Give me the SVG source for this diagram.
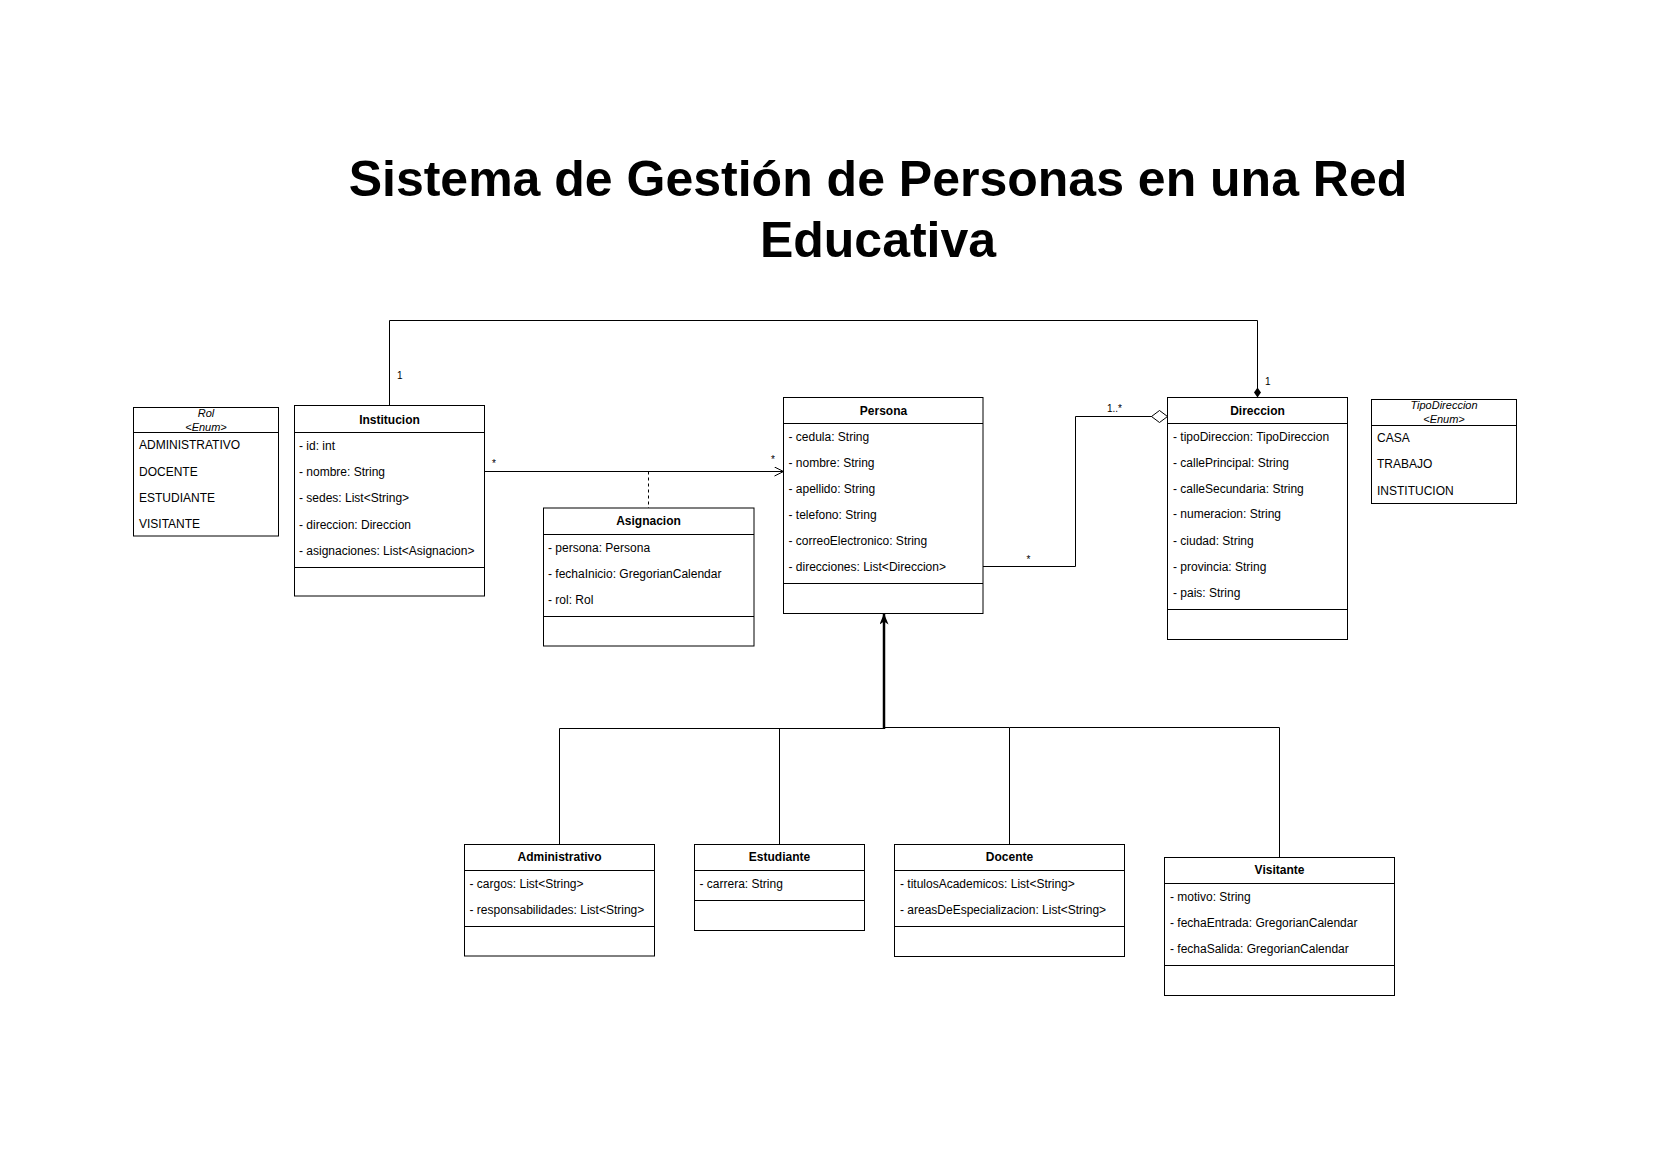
<svg xmlns="http://www.w3.org/2000/svg" width="1654" height="1169" viewBox="0 0 1654 1169">
<style>
text{font-family:"Liberation Sans",Arial,sans-serif;font-size:12px;fill:#000}
.box{fill:#fff;stroke:#000;stroke-width:1}
.sep{stroke:#000;stroke-width:1}
.hd{font-weight:bold;text-anchor:middle}
.en{font-style:italic;font-size:11px;text-anchor:middle}
.lbl{font-size:10px}
.title{font-size:50px;font-weight:bold;text-anchor:middle}
.edge{fill:none;stroke:#000;stroke-width:1}
.trunk{fill:none;stroke:#000;stroke-width:2.5}
</style>
<defs>
<marker id="open" viewBox="0 0 10 10" refX="9.5" refY="5" markerWidth="10" markerHeight="10" markerUnits="userSpaceOnUse" orient="auto"><path d="M0.5 0.5 L9.5 5 L0.5 9.5" fill="none" stroke="#000" stroke-width="1"/></marker>
<marker id="block" viewBox="0 0 11 9" refX="11" refY="4.5" markerWidth="11" markerHeight="9" markerUnits="userSpaceOnUse" orient="auto"><path d="M0 0 L11 4.5 L0 9 L3 4.5 z" fill="#000"/></marker>
<marker id="fdiamond" viewBox="0 0 10 7" refX="10" refY="3.5" markerWidth="10" markerHeight="7" markerUnits="userSpaceOnUse" orient="auto"><path d="M0 3.5 L5 0 L10 3.5 L5 7 z" fill="#000"/></marker>
<marker id="hdiamond" viewBox="0 0 17 13" refX="16.5" refY="6.5" markerWidth="17" markerHeight="13" markerUnits="userSpaceOnUse" orient="auto"><path d="M0.5 6.5 L8.5 0.5 L16.5 6.5 L8.5 12.5 z" fill="#fff" stroke="#000" stroke-width="1"/></marker>
</defs>
<rect width="1654" height="1169" fill="#fff"/>
<text class="title" x="878" y="196">Sistema de Gestión de Personas en una Red</text>
<text class="title" x="878" y="257">Educativa</text>

<g id="connectors">
<path class="edge" d="M389.5 405.5 V320.5 H1257.5 V397.5" marker-end="url(#fdiamond)"/>
<path class="edge" d="M484.5 471.5 H783.5" marker-end="url(#open)"/>
<path class="edge" d="M648.5 471.5 V508" stroke-dasharray="3 3"/>
<path class="edge" d="M983 566.5 H1075.5 V416.5 H1167.5" marker-end="url(#hdiamond)"/>
<path class="edge" d="M559.5 844.5 V728.5 H884"/>
<path class="edge" d="M779.5 844.5 V728.5"/>
<path class="edge" d="M1009.5 844.5 V727.5 H884"/>
<path class="edge" d="M1279.5 857.5 V727.5 H1009.5"/>
<path class="trunk" d="M884 729 V613.5" marker-end="url(#block)"/>
<text class="lbl" x="397" y="379">1</text>
<text class="lbl" x="1265" y="385">1</text>
<text class="lbl" x="492" y="467">*</text>
<text class="lbl" x="771" y="463">*</text>
<text class="lbl" x="1107" y="412">1..*</text>
<text class="lbl" x="1026.5" y="563">*</text>
</g>

<g id="Rol">
<rect class="box" x="133.5" y="407.5" width="145" height="128.5"/>
<line class="sep" x1="133.5" y1="432.5" x2="278.5" y2="432.5"/>
<text class="en" x="206" y="416.5">Rol</text>
<text class="en" x="206" y="430.5">&lt;Enum&gt;</text>
<text x="139" y="449">ADMINISTRATIVO</text>
<text x="139" y="475.5">DOCENTE</text>
<text x="139" y="501.5">ESTUDIANTE</text>
<text x="139" y="528">VISITANTE</text>
</g>

<g id="Institucion">
<rect class="box" x="294.5" y="405.5" width="190" height="190.5"/>
<line class="sep" x1="294.5" y1="432.5" x2="484.5" y2="432.5"/>
<line class="sep" x1="294.5" y1="567.5" x2="484.5" y2="567.5"/>
<text class="hd" x="389.5" y="423.5">Institucion</text>
<text x="299" y="450">- id: int</text>
<text x="299" y="476">- nombre: String</text>
<text x="299" y="502.3">- sedes: List&lt;String&gt;</text>
<text x="299" y="528.7">- direccion: Direccion</text>
<text x="299" y="555">- asignaciones: List&lt;Asignacion&gt;</text>
</g>

<g id="Asignacion">
<rect class="box" x="543.5" y="508" width="210.5" height="138"/>
<line class="sep" x1="543.5" y1="534.5" x2="754" y2="534.5"/>
<line class="sep" x1="543.5" y1="616.5" x2="754" y2="616.5"/>
<text class="hd" x="648.5" y="525">Asignacion</text>
<text x="548" y="551.7">- persona: Persona</text>
<text x="548" y="578.3">- fechaInicio: GregorianCalendar</text>
<text x="548" y="604">- rol: Rol</text>
</g>

<g id="Persona">
<rect class="box" x="783.5" y="397.5" width="199.5" height="216"/>
<line class="sep" x1="783.5" y1="423.5" x2="983" y2="423.5"/>
<line class="sep" x1="783.5" y1="583.5" x2="983" y2="583.5"/>
<text class="hd" x="883.5" y="414.5">Persona</text>
<text x="788.5" y="441.3">- cedula: String</text>
<text x="788.5" y="467.3">- nombre: String</text>
<text x="788.5" y="493">- apellido: String</text>
<text x="788.5" y="519">- telefono: String</text>
<text x="788.5" y="544.7">- correoElectronico: String</text>
<text x="788.5" y="570.7">- direcciones: List&lt;Direccion&gt;</text>
</g>

<g id="Direccion">
<rect class="box" x="1167.5" y="397.5" width="180" height="242"/>
<line class="sep" x1="1167.5" y1="423.5" x2="1347.5" y2="423.5"/>
<line class="sep" x1="1167.5" y1="609.5" x2="1347.5" y2="609.5"/>
<text class="hd" x="1257.5" y="414.5">Direccion</text>
<text x="1173" y="440.7">- tipoDireccion: TipoDireccion</text>
<text x="1173" y="467">- callePrincipal: String</text>
<text x="1173" y="493">- calleSecundaria: String</text>
<text x="1173" y="518.3">- numeracion: String</text>
<text x="1173" y="544.7">- ciudad: String</text>
<text x="1173" y="570.7">- provincia: String</text>
<text x="1173" y="596.7">- pais: String</text>
</g>

<g id="TipoDireccion">
<rect class="box" x="1371.5" y="399.5" width="145" height="104"/>
<line class="sep" x1="1371.5" y1="425.5" x2="1516.5" y2="425.5"/>
<text class="en" x="1444" y="409">TipoDireccion</text>
<text class="en" x="1444" y="423">&lt;Enum&gt;</text>
<text x="1377" y="442.3">CASA</text>
<text x="1377" y="468.3">TRABAJO</text>
<text x="1377" y="494.7">INSTITUCION</text>
</g>

<g id="Administrativo">
<rect class="box" x="464.5" y="844.5" width="190" height="111.5"/>
<line class="sep" x1="464.5" y1="870.5" x2="654.5" y2="870.5"/>
<line class="sep" x1="464.5" y1="926.5" x2="654.5" y2="926.5"/>
<text class="hd" x="559.5" y="861.3">Administrativo</text>
<text x="469.5" y="887.7">- cargos: List&lt;String&gt;</text>
<text x="469.5" y="914">- responsabilidades: List&lt;String&gt;</text>
</g>

<g id="Estudiante">
<rect class="box" x="694.5" y="844.5" width="170" height="86"/>
<line class="sep" x1="694.5" y1="870.5" x2="864.5" y2="870.5"/>
<line class="sep" x1="694.5" y1="900.5" x2="864.5" y2="900.5"/>
<text class="hd" x="779.5" y="861.3">Estudiante</text>
<text x="699.5" y="887.7">- carrera: String</text>
</g>

<g id="Docente">
<rect class="box" x="894.5" y="844.5" width="230" height="112"/>
<line class="sep" x1="894.5" y1="870.5" x2="1124.5" y2="870.5"/>
<line class="sep" x1="894.5" y1="926.5" x2="1124.5" y2="926.5"/>
<text class="hd" x="1009.5" y="861.3">Docente</text>
<text x="900" y="887.7">- titulosAcademicos: List&lt;String&gt;</text>
<text x="900" y="913.7">- areasDeEspecializacion: List&lt;String&gt;</text>
</g>

<g id="Visitante">
<rect class="box" x="1164.5" y="857.5" width="230" height="138"/>
<line class="sep" x1="1164.5" y1="883.5" x2="1394.5" y2="883.5"/>
<line class="sep" x1="1164.5" y1="965.5" x2="1394.5" y2="965.5"/>
<text class="hd" x="1279.5" y="874.3">Visitante</text>
<text x="1170" y="900.7">- motivo: String</text>
<text x="1170" y="926.7">- fechaEntrada: GregorianCalendar</text>
<text x="1170" y="952.7">- fechaSalida: GregorianCalendar</text>
</g>
</svg>
